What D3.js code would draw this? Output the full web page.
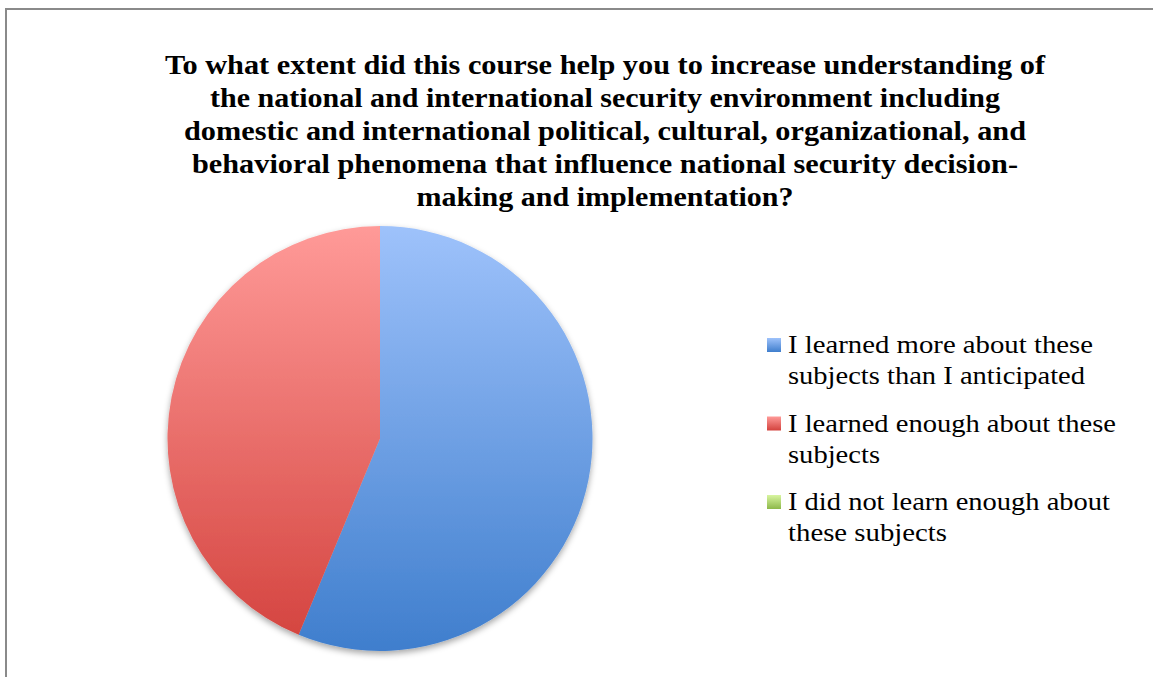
<!DOCTYPE html>
<html><head><meta charset="utf-8">
<script src="https://cdn.jsdelivr.net/npm/d3@7"></script>
<style>body{margin:0;background:#fff;} svg{display:block;}</style>
</head><body>
<svg id="c" width="1153" height="677"></svg>
<script>
// ---- data ----
const categories = [
  "I learned more about these subjects than I anticipated",
  "I learned enough about these subjects",
  "I did not learn enough about these subjects"
];
const values = [9, 7, 0];
const titleLines = [
  "To what extent did this course help you to increase understanding of",
  "the national and international security environment including",
  "domestic and international political, cultural, organizational, and",
  "behavioral phenomena that influence national security decision-",
  "making and implementation?"
];
const legendLines = [
  ["I learned more about these", "subjects than I anticipated"],
  ["I learned enough about these", "subjects"],
  ["I did not learn enough about", "these subjects"]
];

// ---- layout / style ----
const colorsTop = ["#9ec2fb", "#ff9a98", "#d8f5a0"];
const colorsBot = ["#3f7ecd", "#d3423d", "#8db84a"];
const titleWidths = [880, 790, 842, 826, 377];
const legendWidths = [[305, 297], [328, 92], [322, 159]];
const fontFam = "'Liberation Serif', 'Times New Roman', serif";

const svg = d3.select("#c");
const W = 1153, H = 677;

// frame
svg.append("path").attr("d", `M6,${H} L6,9 L${W},9`)
  .attr("fill", "none").attr("stroke", "#8a8a8a").attr("stroke-width", 2);

const defs = svg.append("defs");
const cx = 380, cy = 438.5, r = 212.5;
categories.forEach((c, i) => {
  const g = defs.append("linearGradient").attr("id", "g" + i)
    .attr("gradientUnits", "userSpaceOnUse")
    .attr("x1", 0).attr("y1", -r).attr("x2", 0).attr("y2", r);
  g.append("stop").attr("offset", 0).attr("stop-color", colorsTop[i]);
  g.append("stop").attr("offset", 1).attr("stop-color", colorsBot[i]);
  const lg = defs.append("linearGradient").attr("id", "lg" + i)
    .attr("x1", 0).attr("y1", 0).attr("x2", 0).attr("y2", 1);
  lg.append("stop").attr("offset", 0).attr("stop-color", colorsTop[i]);
  lg.append("stop").attr("offset", 1).attr("stop-color", colorsBot[i]);
});
const f = defs.append("filter").attr("id", "sh").attr("x", "-20%").attr("y", "-20%").attr("width", "140%").attr("height", "140%");
f.append("feDropShadow").attr("dx", 0).attr("dy", 3).attr("stdDeviation", 3)
  .attr("flood-color", "#000").attr("flood-opacity", 0.35);

// title
const title = svg.append("text").attr("font-family", fontFam)
  .attr("font-weight", "bold").attr("font-size", 28).attr("fill", "#000")
  .attr("text-anchor", "middle");
titleLines.forEach((t, i) => {
  title.append("tspan").attr("x", 605).attr("y", 74 + i * 33)
    .attr("textLength", titleWidths[i]).attr("lengthAdjust", "spacingAndGlyphs").text(t);
});

// pie
const pie = d3.pie().sort(null).value(d => d)(values);
const arc = d3.arc().innerRadius(0).outerRadius(r);
const pg = svg.append("g").attr("transform", `translate(${cx},${cy})`).attr("filter", "url(#sh)");
pg.selectAll("path").data(pie).join("path")
  .attr("d", arc)
  .attr("fill", (d, i) => `url(#g${i})`);

// legend
const lgG = svg.append("g");
legendLines.forEach((lines, i) => {
  const y0 = 338 + i * 78.5;
  lgG.append("rect").attr("x", 767).attr("y", y0).attr("width", 14).attr("height", 14)
    .attr("fill", `url(#lg${i})`);
  const t = lgG.append("text").attr("font-family", fontFam)
    .attr("font-size", 26).attr("fill", "#000");
  lines.forEach((ln, j) => {
    t.append("tspan").attr("x", 788).attr("y", y0 + 15 + j * 31)
      .attr("textLength", legendWidths[i][j]).attr("lengthAdjust", "spacingAndGlyphs").text(ln);
  });
});
</script>
</body></html>
